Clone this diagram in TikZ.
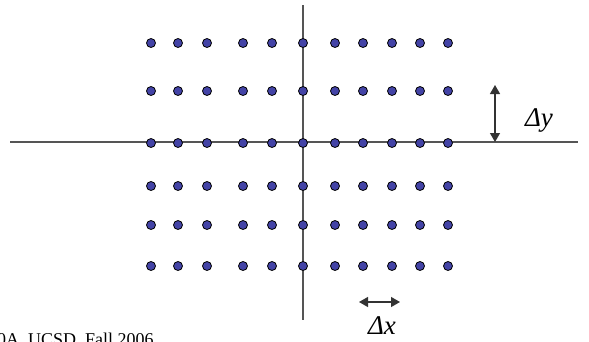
\documentclass[tikz,border=0pt]{standalone}
\usepackage{fontspec}
\setmainfont{Liberation Serif}
\usetikzlibrary{arrows.meta}
\definecolor{dotblue}{HTML}{4343A6}
\definecolor{axisgray}{HTML}{555555}
\begin{document}
\begin{tikzpicture}[x=1pt,y=-1pt,
  dot/.style={circle,draw=black,fill=dotblue,line width=0.8pt,minimum size=9pt,inner sep=0pt},
  axis/.style={draw=axisgray,line width=1.3pt},
  dim/.style={draw=black!80,line width=1.2pt,{Triangle[length=9pt,width=10pt]}-{Triangle[length=9pt,width=10pt]}},
  lab/.style={font=\fontsize{27}{30}\selectfont\itshape,inner sep=0pt},
  foot/.style={font=\fontsize{18}{21}\selectfont,inner sep=0pt,anchor=base west}]
\useasboundingbox (0,0) rectangle (589,341);
\coordinate (xl) at (10,142);
\coordinate (xr) at (578,142);
\coordinate (yt) at (303,5);
\coordinate (yb) at (303,320);
\draw[axis] (xl) -- (xr);
\draw[axis] (yt) -- (yb);
\foreach \x [count=\i] in {151,178,207,243,272,303,335,363,392,420,448}{
  \foreach \y [count=\j] in {43,91,143,186,225,266}{
    \node[dot] (d-\i-\j) at (\x,\y) {};
  }
}
\coordinate (dyt) at (495,85);
\coordinate (dyb) at (495,142);
\draw[dim] (dyt) -- (dyb);
\node[lab] (dylab) at (539,120) {Δy};
\coordinate (dxl) at (359,302);
\coordinate (dxr) at (400,302);
\draw[dim] (dxl) -- (dxr);
\node[lab] (dxlab) at (382,326) {Δx};
\node[foot] (footer) at (-3,345) {0A, UCSD, Fall 2006};
\end{tikzpicture}
\end{document}
